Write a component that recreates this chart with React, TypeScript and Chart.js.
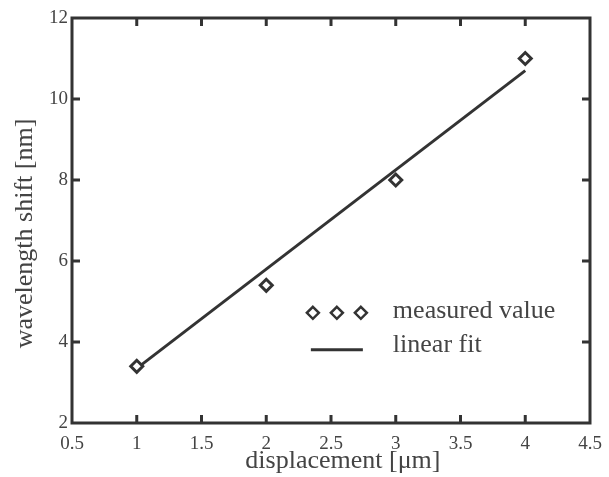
import React, { useEffect, useRef } from "react";
import { Chart, registerables } from "chart.js";

Chart.register(...registerables);

const displacement = [1, 2, 3, 4];
const measuredShift = [3.4, 5.4, 8.0, 11.0];
const fitX = [1, 4];
const fitY = [3.35, 10.7];
const xTickValues = [1, 1.5, 2, 2.5, 3, 3.5, 4];
const yTickValues = [4, 6, 8, 10];
const xTitle = "displacement [μm]";
const yTitle = "wavelength shift [nm]";
const legendLabels = ["measured value", "linear fit"];

const INK = "#333333";
const TEXT = "#444444";
const FONT = "'Liberation Serif', 'Times New Roman', serif";

const framePlugin = {
  id: "frameTicks",
  afterDraw(chart: any) {
    const { ctx, chartArea, scales } = chart;
    const { left, right, top, bottom } = chartArea;
    const w = right - left;
    const h = bottom - top;
    ctx.save();
    ctx.strokeStyle = INK;
    ctx.lineWidth = 3;
    ctx.strokeRect(left, top, w, h);
    const len = 8;
    ctx.beginPath();
    xTickValues.forEach((v) => {
      const px = scales.x.getPixelForValue(v);
      ctx.moveTo(px, bottom);
      ctx.lineTo(px, bottom - len);
      ctx.moveTo(px, top);
      ctx.lineTo(px, top + len);
    });
    yTickValues.forEach((v) => {
      const py = scales.y.getPixelForValue(v);
      ctx.moveTo(left, py);
      ctx.lineTo(left + len, py);
      ctx.moveTo(right, py);
      ctx.lineTo(right - len, py);
    });
    ctx.stroke();

    // legend
    const lx = left + 0.465 * w;
    const ly1 = top + 0.728 * h;
    const ly2 = top + 0.819 * h;
    ctx.lineWidth = 2.5;
    ctx.fillStyle = "#ffffff";
    [0, 24, 48].forEach((dx) => {
      const cx = lx + dx;
      const r = 6;
      ctx.beginPath();
      ctx.moveTo(cx, ly1 - r);
      ctx.lineTo(cx + r, ly1);
      ctx.lineTo(cx, ly1 + r);
      ctx.lineTo(cx - r, ly1);
      ctx.closePath();
      ctx.fill();
      ctx.stroke();
    });
    ctx.beginPath();
    ctx.lineWidth = 3;
    ctx.moveTo(lx - 2, ly2);
    ctx.lineTo(lx + 50, ly2);
    ctx.stroke();
    ctx.fillStyle = TEXT;
    ctx.font = `26px ${FONT}`;
    ctx.textBaseline = "middle";
    ctx.textAlign = "left";
    ctx.fillText(legendLabels[0], lx + 80, ly1 - 2);
    ctx.fillText(legendLabels[1], lx + 80, ly2 - 5);

    // axis titles
    ctx.textAlign = "center";
    ctx.textBaseline = "alphabetic";
    ctx.fillText(xTitle, left + 0.523 * w, 468);
    ctx.save();
    ctx.translate(32, top + 0.532 * h);
    ctx.rotate(-Math.PI / 2);
    ctx.fillText(yTitle, 0, 0);
    ctx.restore();
    ctx.restore();
  },
};

export default function App() {
  const ref = useRef<HTMLCanvasElement>(null);
  useEffect(() => {
    if (!ref.current) return;
    const chart = new Chart(ref.current, {
      type: "scatter",
      data: {
        datasets: [
          {
            label: legendLabels[1],
            type: "line",
            data: fitX.map((x, i) => ({ x, y: fitY[i] })),
            borderColor: INK,
            borderWidth: 3,
            pointRadius: 0,
            fill: false,
            order: 2,
          } as any,
          {
            label: legendLabels[0],
            data: displacement.map((x, i) => ({ x, y: measuredShift[i] })),
            pointStyle: "rectRot",
            pointRadius: 6,
            borderColor: INK,
            backgroundColor: "#ffffff",
            borderWidth: 3,
            order: 1,
          },
        ],
      },
      options: {
        animation: false,
        responsive: true,
        maintainAspectRatio: false,
        layout: { padding: { top: 18, right: 19, left: 0, bottom: 0 } },
        plugins: { legend: { display: false }, tooltip: { enabled: false } },
        scales: {
          x: {
            type: "linear",
            min: 0.5,
            max: 4.5,
            afterFit: (s: any) => {
              s.height = 54;
              s.paddingLeft = 0;
              s.paddingRight = 0;
            },
            grid: { display: false, drawTicks: false },
            border: { display: false },
            ticks: {
              stepSize: 0.5,
              color: TEXT,
              padding: 10,
              font: { family: FONT, size: 19 },
              callback: (v: any) => String(v),
            },
            title: { display: false, text: xTitle },
          },
          y: {
            min: 2,
            max: 12,
            afterFit: (s: any) => {
              s.width = 72;
              s.paddingTop = 0;
              s.paddingBottom = 0;
            },
            grid: { display: false, drawTicks: false },
            border: { display: false },
            ticks: {
              stepSize: 2,
              color: TEXT,
              padding: 4,
              font: { family: FONT, size: 19 },
            },
            title: { display: false, text: yTitle },
          },
        },
      },
      plugins: [framePlugin],
    });
    return () => chart.destroy();
  }, []);
  return (
    <div style={{ position: "fixed", left: 0, top: 0, width: 609, height: 477, background: "#fff" }}>
      <canvas ref={ref} />
    </div>
  );
}
